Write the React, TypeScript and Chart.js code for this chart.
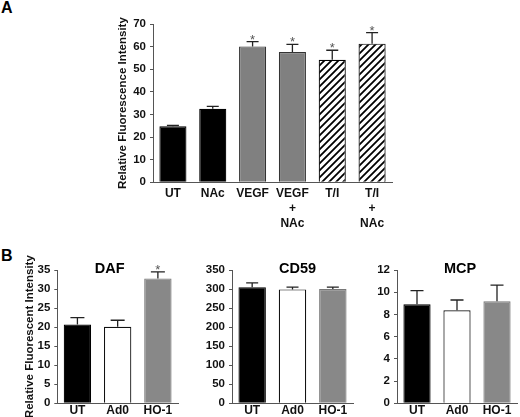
import React, { useEffect, useRef } from 'react';
import { Chart, registerables } from 'chart.js';

Chart.register(...registerables);

const FONT = '"Liberation Sans", Arial, Helvetica, sans-serif';

// ---------- Panel A data ----------
const catsA: string[][] = [['UT'], ['NAc'], ['VEGF'], ['VEGF', '+', 'NAc'], ['T/I'], ['T/I', '+', 'NAc']];
const valsA = [24.8, 32.5, 60.1, 57.6, 54.2, 61.3];
const errA = [25.2, 33.6, 62.2, 61.0, 58.4, 66.2];
const sigA = [false, false, true, true, true, true];
const ticksA = [0, 10, 20, 30, 40, 50, 60, 70];

// ---------- Panel B data ----------
const catsB = ['UT', 'Ad0', 'HO-1'];
const dafVals = [20.7, 20.1, 32.8];
const dafErr = [22.5, 21.8, 34.5];
const dafSig = [false, false, true];
const dafTicks = [0, 5, 10, 15, 20, 25, 30, 35];

const cd59Vals = [305, 299, 300];
const cd59Err = [316, 305, 305];
const cd59Sig = [false, false, false];
const cd59Ticks = [0, 50, 100, 150, 200, 250, 300, 350];

const mcpVals = [8.92, 8.38, 9.19];
const mcpErr = [10.14, 9.3, 10.63];
const mcpSig = [false, false, false];
const mcpTicks = [0, 2, 4, 6, 8, 10, 12];

type PanelOpts = {
  labels: any[];
  values: number[];
  errs: number[];
  sig: boolean[];
  ticks: number[];
  fills: (ctx: CanvasRenderingContext2D) => (string | CanvasPattern)[];
  borders: string[];
  yTitle?: string;
  title?: string;
  titleDx?: number;
  pad: { left: number; top: number; right: number; bottom: number };
  yWidth: number;
  xHeight: number;
  xPad: number;
  capW: number;
  barPct: number;
};

function makeHatch(): CanvasPattern | string {
  const s = 7;
  const c = document.createElement('canvas');
  c.width = s;
  c.height = s;
  const g = c.getContext('2d');
  if (!g) return '#fff';
  g.fillStyle = '#fff';
  g.fillRect(0, 0, s, s);
  g.strokeStyle = '#000';
  g.lineWidth = 1.8;
  g.beginPath();
  g.moveTo(-1, s + 1);
  g.lineTo(s + 1, -1);
  g.moveTo(-1, 1);
  g.lineTo(1, -1);
  g.moveTo(s - 1, s + 1);
  g.lineTo(s + 1, s - 1);
  g.stroke();
  const p = g.createPattern(c, 'repeat');
  return p || '#fff';
}

function Panel(props: { left: number; top: number; width: number; height: number; opts: PanelOpts }) {
  const ref = useRef<HTMLCanvasElement | null>(null);
  const { left, top, width, height, opts } = props;
  useEffect(() => {
    const canvas = ref.current;
    if (!canvas) return;
    const ctx = canvas.getContext('2d');
    if (!ctx) return;
    const errPlugin = {
      id: 'errPlugin',
      afterDatasetsDraw(chart: any) {
        const c = chart.ctx;
        const meta = chart.getDatasetMeta(0);
        const ys = chart.scales.y;
        c.save();
        meta.data.forEach((bar: any, i: number) => {
          const x = bar.x;
          const y0 = ys.getPixelForValue(opts.values[i]);
          const y1 = ys.getPixelForValue(opts.errs[i]);
          c.strokeStyle = '#222';
          c.lineWidth = 1.3;
          c.beginPath();
          c.moveTo(x, y0);
          c.lineTo(x, y1);
          c.moveTo(x - opts.capW / 2, y1);
          c.lineTo(x + opts.capW / 2, y1);
          c.stroke();
          if (opts.sig[i]) {
            c.fillStyle = '#555';
            c.font = `13px ${FONT}`;
            c.textAlign = 'center';
            c.textBaseline = 'alphabetic';
            c.fillText('*', x, y1 + 2);
          }
        });
        if (opts.title) {
          const area = chart.chartArea;
          c.fillStyle = '#000';
          c.font = `bold 14.5px ${FONT}`;
          c.textAlign = 'center';
          c.textBaseline = 'middle';
          c.fillText(opts.title, (area.left + area.right) / 2 + (opts.titleDx || 0), area.top - 1);
        }
        c.restore();
      },
    };
    const t = opts.ticks;
    const chart = new Chart(ctx, {
      type: 'bar',
      data: {
        labels: opts.labels,
        datasets: [
          {
            data: opts.values,
            backgroundColor: opts.fills(ctx) as any,
            borderColor: opts.borders,
            borderWidth: 1.2,
            categoryPercentage: 1,
            barPercentage: opts.barPct,
          },
        ],
      },
      options: {
        animation: false,
        responsive: false,
        devicePixelRatio: 1,
        layout: { padding: opts.pad },
        plugins: { legend: { display: false }, tooltip: { enabled: false }, title: { display: false } },
        scales: {
          x: {
            grid: { display: false, drawTicks: false },
            border: { display: true, color: '#555', width: 1 },
            ticks: {
              color: '#111',
              padding: opts.xPad,
              font: { family: FONT, size: 12, weight: 'bold', lineHeight: 1.25 },
              maxRotation: 0,
              autoSkip: false,
            },
            afterFit: (s: any) => {
              s.height = opts.xHeight;
            },
          },
          y: {
            min: t[0],
            max: t[t.length - 1],
            grid: { display: true, drawOnChartArea: false, drawTicks: true, tickLength: 3, color: '#555' },
            border: { display: true, color: '#555', width: 1 },
            ticks: {
              stepSize: t[1] - t[0],
              color: '#111',
              padding: 4,
              font: { family: FONT, size: 11.5, weight: 'bold' },
            },
            title: opts.yTitle
              ? {
                  display: true,
                  text: opts.yTitle,
                  color: '#111',
                  padding: 0,
                  font: { family: FONT, size: 11.5, weight: 'bold', lineHeight: 1.2 },
                }
              : { display: false },
            afterFit: (s: any) => {
              s.width = opts.yWidth;
            },
          },
        },
      },
      plugins: [errPlugin],
    } as any);
    return () => chart.destroy();
  }, []);
  return (
    <canvas
      ref={ref}
      width={width}
      height={height}
      style={{ position: 'absolute', left, top, width, height }}
    />
  );
}

export default function App() {
  const optsA: PanelOpts = {
    labels: catsA,
    values: valsA,
    errs: errA,
    sig: sigA,
    ticks: ticksA,
    fills: () => {
      const h = makeHatch();
      return ['#000', '#000', '#808080', '#808080', h, h];
    },
    borders: ['#000', '#000', '#333', '#333', '#000', '#000'],
    yTitle: 'Relative Fluorescence Intensity',
    pad: { left: 116, top: 24, right: 128, bottom: 0 },
    yWidth: 37,
    xHeight: 57.7,
    xPad: 4,
    capW: 12,
    barPct: 0.68,
  };
  const fillsB = () => ['#000', '#fff', '#888'];
  const bordersB = ['#000', '#111', '#777'];
  const optsDaf: PanelOpts = {
    labels: catsB,
    values: dafVals,
    errs: dafErr,
    sig: dafSig,
    ticks: dafTicks,
    fills: fillsB,
    borders: bordersB,
    yTitle: 'Relative Fluorescent Intensity',
    title: 'DAF',
    titleDx: -8,
    pad: { left: 22.6, top: 25, right: 2, bottom: 0 },
    yWidth: 34.7,
    xHeight: 13.7,
    xPad: 0,
    capW: 14,
    barPct: 0.68,
  };
  const optsCd59: PanelOpts = {
    labels: catsB,
    values: cd59Vals,
    errs: cd59Err,
    sig: cd59Sig,
    ticks: cd59Ticks,
    fills: fillsB,
    borders: bordersB,
    title: 'CD59',
    titleDx: 5,
    pad: { left: 0, top: 25, right: 7, bottom: 0 },
    yWidth: 52,
    xHeight: 13.7,
    xPad: 0,
    capW: 12,
    barPct: 0.68,
  };
  const optsMcp: PanelOpts = {
    labels: catsB,
    values: mcpVals,
    errs: mcpErr,
    sig: mcpSig,
    ticks: mcpTicks,
    fills: fillsB,
    borders: bordersB,
    title: 'MCP',
    titleDx: 3,
    pad: { left: 0, top: 25, right: 3, bottom: 0 },
    yWidth: 37,
    xHeight: 13.7,
    xPad: 0,
    capW: 13,
    barPct: 0.68,
  };
  const letter: React.CSSProperties = {
    position: 'absolute',
    fontFamily: FONT,
    fontWeight: 'bold',
    fontSize: 16,
    lineHeight: '16px',
    color: '#000',
    margin: 0,
  };
  return (
    <div style={{ position: 'absolute', left: 0, top: 0, width: 520, height: 417, background: '#fff', overflow: 'hidden' }}>
      <div style={{ ...letter, left: 1, top: 0 }}>A</div>
      <div style={{ ...letter, left: 1, top: 248 }}>B</div>
      <Panel left={0} top={0} width={520} height={240} opts={optsA} />
      <Panel left={0} top={245} width={180} height={172} opts={optsDaf} />
      <Panel left={180} top={245} width={180} height={172} opts={optsCd59} />
      <Panel left={360} top={245} width={160} height={172} opts={optsMcp} />
    </div>
  );
}
